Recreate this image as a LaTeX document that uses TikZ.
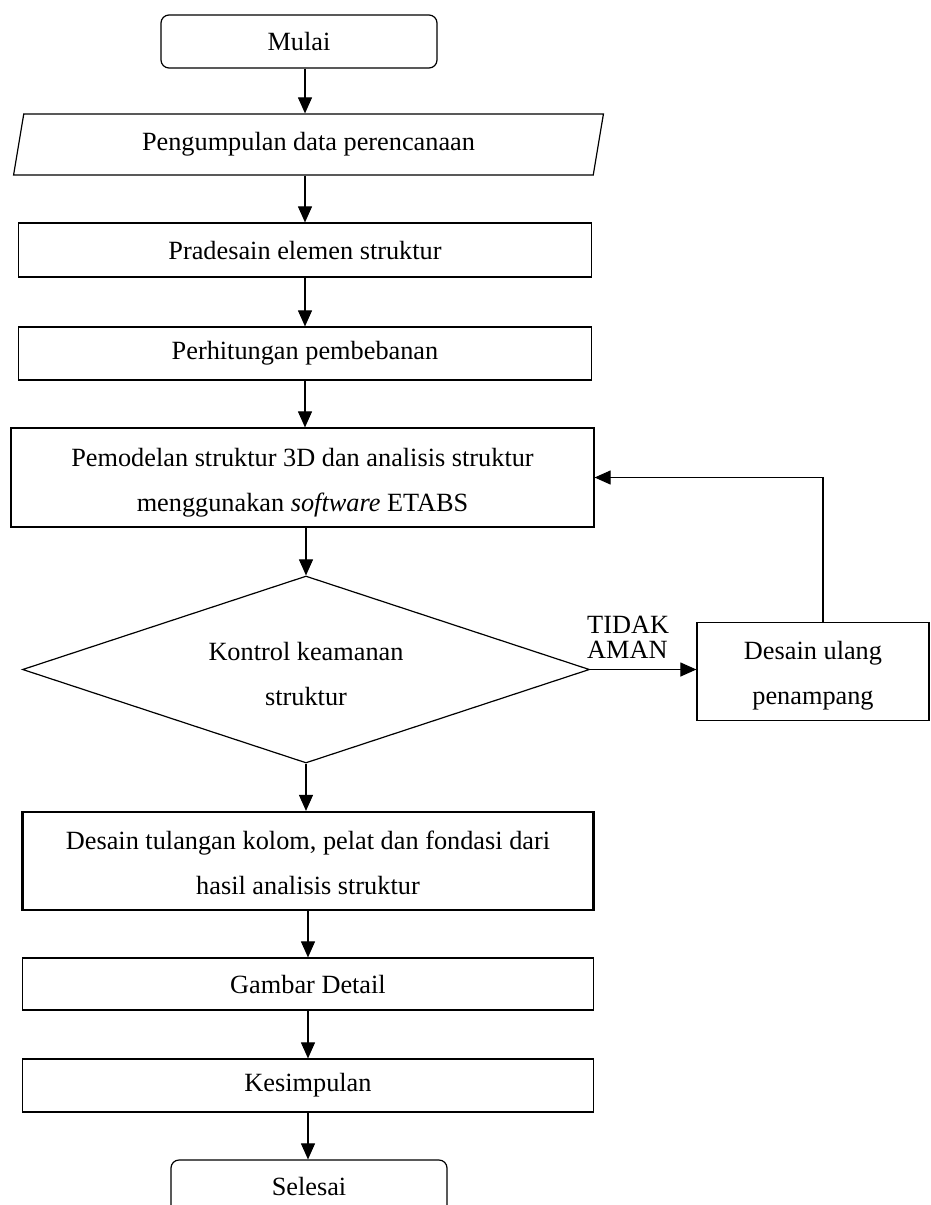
\documentclass[tikz,border=0pt]{standalone}
\usepackage{fontspec}
\setmainfont{Liberation Serif}
\usetikzlibrary{arrows.meta,shapes.geometric}
\newcommand{\lowstrut}{\rule{0pt}{27pt}}
\begin{document}
\begin{tikzpicture}[x=1pt,y=-1pt,
  base/.style={draw,line width=1.2pt,inner sep=0pt,align=center,
    font=\fontsize{26.3}{45}\selectfont},
  procbox/.style={base,rectangle},
  termbox/.style={base,rectangle,rounded corners=8pt},
  iobox/.style={base,trapezium,trapezium left angle=76,trapezium right angle=104,trapezium stretches=true},
  decbox/.style={base,diamond,aspect=3},
  arr/.style={line width=1.1pt,-{Triangle[length=16pt,width=14pt]}},
  lblstyle/.style={inner sep=0pt,align=left,font=\fontsize{26.3}{25}\selectfont}
]
\useasboundingbox (0,0) rectangle (931,1205);

\node[termbox,minimum width=276pt,minimum height=53pt] (mulai) at (299,41.5) {Mulai};
\node[iobox,minimum width=593pt,minimum height=61pt] (para) at (308.5,144.5) {Pengumpulan data perencanaan};
\node[procbox,minimum width=573pt,minimum height=54pt] (pra) at (305,250) {Pradesain elemen struktur};
\node[procbox,minimum width=573pt,minimum height=53pt] (perh) at (305,353.5) {Perhitungan pembebanan};
\node[procbox,minimum width=583pt,minimum height=99pt] (pemo) at (302.5,477.5)
  {\rule{0pt}{28pt}Pemodelan struktur 3D dan analisis struktur\\menggunakan \textit{software} ETABS};
\node[decbox,minimum width=567pt,minimum height=187pt] (dec) at (306,669.5)
  {\lowstrut Kontrol keamanan\\struktur};
\node[procbox,minimum width=232pt,minimum height=98pt] (ulang) at (813,671.5)
  {\lowstrut Desain ulang\\penampang};
\node[lblstyle,anchor=west] (lbl) at (587,637) {TIDAK\\AMAN};
\node[procbox,line width=2.2pt,minimum width=571pt,minimum height=98pt] (tul) at (308,861)
  {\rule{0pt}{23pt}Desain tulangan kolom, pelat dan fondasi dari\\hasil analisis struktur};
\node[procbox,minimum width=571pt,minimum height=52pt] (gam) at (308,984) {Gambar Detail};
\node[procbox,minimum width=571pt,minimum height=53pt] (kes) at (308,1085.5) {Kesimpulan};
\node[termbox,minimum width=276pt,minimum height=53pt] (sel) at (309,1186.5) {Selesai};

\draw[arr] (mulai.south -| pra.north) -- (para.north -| pra.north);
\draw[arr] (para.south -| pra.north) -- (pra.north);
\draw[arr] (pra.south) -- (perh.north);
\draw[arr] (perh.south) -- (perh.south |- pemo.north);
\draw[arr] (pemo.south -| dec.north) -- (dec.north);
\draw[arr] (dec.south) -- (dec.south |- tul.north);
\draw[arr] (tul.south) -- (gam.north);
\draw[arr] (gam.south) -- (kes.north);
\draw[arr] (kes.south) -- (kes.south |- sel.north);
\draw[arr] (dec.east) -- (dec.east -| ulang.west);
\draw[arr] ([xshift=10pt]ulang.north) -- ([xshift=10pt]ulang.north |- pemo.east) -- (pemo.east);
\end{tikzpicture}
\end{document}
